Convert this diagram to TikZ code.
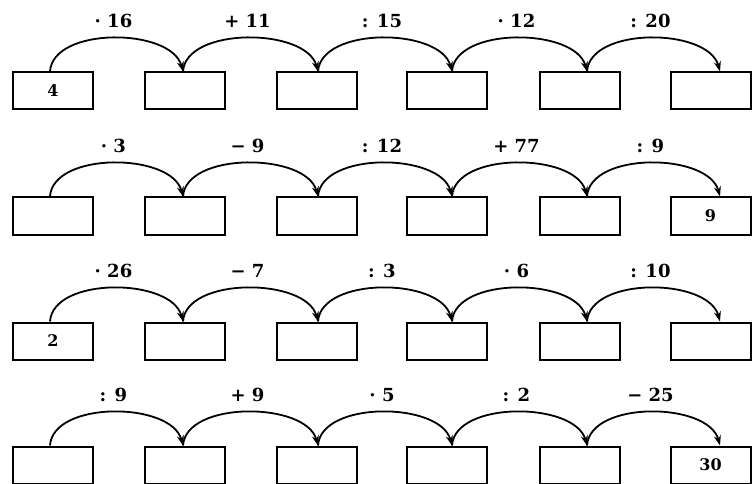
\documentclass[tikz,border=0pt]{standalone}
\usepackage{fontspec}
\setmainfont{DejaVu Serif}
\usetikzlibrary{arrows.meta,calc}
\begin{document}
\begin{tikzpicture}[x=1pt,y=1pt,
  numbox/.style={draw, line width=2pt, minimum width=80pt, minimum height=37pt, inner sep=0pt},
  numtext/.style={font=\bfseries\fontsize{16}{16}\selectfont},
  hop/.style={line width=1.8pt, -{Stealth[length=10pt,width=7pt]}},
  oplabel/.style={font=\bfseries\fontsize{18}{18}\selectfont, anchor=base, inner sep=0pt}]
\useasboundingbox (0,0) rectangle (753,483);
\clip (0,0) rectangle (753,483);
\foreach \r/\T/\ops in {1/411/{· 16,+ 11,: 15,· 12,: 20},2/286/{· 3,− 9,: 12,+ 77,: 9},3/161/{· 26,− 7,: 3,· 6,: 10},4/37/{: 9,+ 9,· 5,: 2,− 25}}{
  \foreach \x/\d [count=\i] in {53/-3,184.5/-1.5,316.5/1.5,447/5,579.5/7.5,710.5/9.5}{
    \node[numbox] (b\r\i) at (\x,\T-19) {};
    \path (b\r\i.north) ++(\d,0) coordinate (j\r\i);
  }
  \foreach \op [count=\i] in \ops {
    \pgfmathtruncatemacro\n{\i+1}
    \draw[hop] (j\r\i) .. controls +(3,45) and +(-12,44) .. (j\r\n);
    \node[oplabel] (o\r\i) at ($(j\r\i)!0.5!(j\r\n)+(-3,44)$) {\op};
  }
}
\node[numtext] (t11) at (b11) {4};
\node[numtext] (t26) at (b26) {9};
\node[numtext] (t31) at (b31) {2};
\node[numtext] (t46) at (b46) {30};
\end{tikzpicture}
\end{document}
